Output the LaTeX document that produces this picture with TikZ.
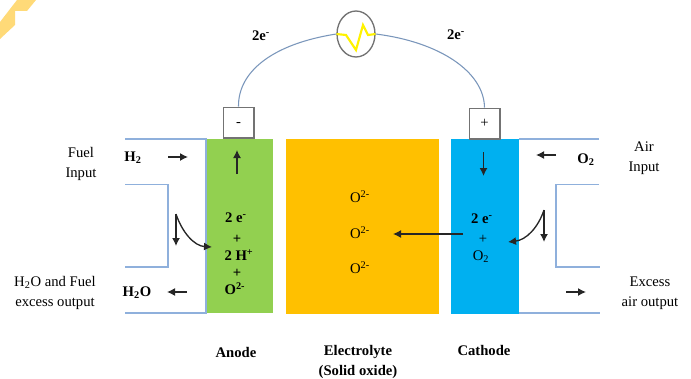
\documentclass[tikz,border=0pt]{standalone}
\usepackage{fontspec}
\setmainfont{Liberation Serif}
\usetikzlibrary{arrows.meta,shapes.geometric}
\definecolor{pipeblue}{RGB}{143,176,220}
\definecolor{anodegreen}{RGB}{146,208,80}
\definecolor{electrolyteorange}{RGB}{255,192,0}
\definecolor{cathodeblue}{RGB}{0,176,240}
\definecolor{cornerorange}{RGB}{255,218,120}
\tikzset{
  pipe/.style={draw=pipeblue,line width=1pt},
  wire/.style={draw=pipeblue!85!black,line width=0.8pt},
  flow/.style={-{Latex[length=6pt,width=6pt]},black!85,line width=1pt},
  terminal/.style={draw=black!55,fill=white,line width=1pt,minimum size=23pt,inner sep=0pt,font=\fontsize{11}{13}\selectfont},
  label/.style={font=\fontsize{11}{15}\selectfont,align=center,inner sep=0pt},
  boldlabel/.style={label,font=\fontsize{11}{15}\selectfont\bfseries},
}
\begin{document}
\begin{tikzpicture}[x=0.75pt,y=-0.75pt]
  \useasboundingbox (0,0) rectangle (691,378);
  \fill[cornerorange] (17,0) -- (36,0) -- (27,11) -- (15,11) -- (15,25) -- (0,39) -- (0,22) -- cycle;
  \fill[anodegreen] (206,139) rectangle (273,313);
  \fill[electrolyteorange] (286,139) rectangle (439,314);
  \fill[cathodeblue] (451,139) rectangle (519,314);
  \draw[pipe] (125,139) -- (206,139) -- (206,313) -- (125,313);
  \draw[pipe] (125,184.5) -- (168,184.5) -- (168,267) -- (125,267);
  \draw[pipe] (519,139) -- (599,139);
  \draw[pipe] (599,184.5) -- (556,184.5) -- (556,267) -- (600,267);
  \draw[pipe] (519,313) -- (600,313);
  \node[terminal] (minus) at (238.5,122.5) {\raisebox{-3pt}[0pt][0pt]{-}};
  \node[terminal] (plus) at (484.5,123.5) {\raisebox{-0.7pt}{+}};
  \node[ellipse,draw=black!55,line width=1pt,minimum width=28.5pt,minimum height=34.5pt,inner sep=0pt] (meter) at (356,34) {};
  \draw[yellow,line width=1.6pt] (meter.west) -- (346,35) -- (356,50) -- (363,25) -- (368,35) -- (meter.east);
  \draw[wire] (minus.north) .. controls (238,72) and (272,44) .. (meter.west);
  \draw[wire] (plus.north) .. controls (484,72) and (440,42) .. (meter.east);
  \node[boldlabel] (wirel) at (261,36) {2e\textsuperscript{-}};
  \node[boldlabel] (wirer) at (456,35) {2e\textsuperscript{-}};
  \node[label] (fuelin) at (81,164) {Fuel\\Input};
  \node[label] (airin) at (644,158) {Air\\Input};
  \node[label] (fuelout) at (55,293) {H\textsubscript{2}O and Fuel\\excess output};
  \node[label] (airout) at (650,293) {Excess\\air output};
  \node[boldlabel] (hyd) at (133,158) {H\textsubscript{2}};
  \node[boldlabel] (oxy) at (586,160) {O\textsubscript{2}};
  \node[boldlabel] (water) at (137,293) {H\textsubscript{2}O};
  \node[boldlabel] (anodetop) at (236,218) {2 e\textsuperscript{-}};
  \node[boldlabel] (anodep) at (237,239) {+};
  \node[boldlabel] (anodeh) at (239,255) {2 H\textsuperscript{+}};
  \node[boldlabel] (anodeq) at (237,273) {+};
  \node[boldlabel] (anodeo) at (235,289) {O\textsuperscript{2-}};
  \node[label] (ionone) at (360,197) {O\textsuperscript{2-}};
  \node[label] (iontwo) at (360,233) {O\textsuperscript{2-}};
  \node[label] (ionthree) at (360,268) {O\textsuperscript{2-}};
  \node[boldlabel] (cathtop) at (482,219) {2 e\textsuperscript{-}};
  \node[label] (cathp) at (483,239) {+};
  \node[label] (catho) at (481,257) {O\textsubscript{2}};
  \node[boldlabel] (anodename) at (236,352) {Anode};
  \node[boldlabel] (elname) at (358,362) {Electrolyte\\(Solid oxide)};
  \node[boldlabel] (cathname) at (484,350) {Cathode};
  \coordinate (hydfrom) at (168,157);
  \coordinate (hydto) at (188,157);
  \coordinate (upfrom) at (237,174);
  \coordinate (upto) at (237,150);
  \coordinate (waterfrom) at (187,292);
  \coordinate (waterto) at (167,292);
  \coordinate (splitl) at (176,214);
  \coordinate (downl) at (176,246);
  \coordinate (inl) at (212,247);
  \coordinate (oxyfrom) at (556,155);
  \coordinate (oxyto) at (536,155);
  \coordinate (downfrom) at (483.5,152);
  \coordinate (downto) at (483.5,176);
  \coordinate (splitr) at (544,210);
  \coordinate (downr) at (544,242);
  \coordinate (inr) at (508,242);
  \coordinate (airfrom) at (566,292);
  \coordinate (airto) at (586,292);
  \coordinate (ionfrom) at (463,234);
  \coordinate (ionto) at (393,234);
  \draw[flow] (hydfrom) -- (hydto);
  \draw[flow] (upfrom) -- (upto);
  \draw[flow] (waterfrom) -- (waterto);
  \draw[flow] (splitl) -- (downl);
  \draw[flow] (splitl) .. controls (182,232) and (194,246) .. (inl);
  \draw[flow] (oxyfrom) -- (oxyto);
  \draw[flow] (downfrom) -- (downto);
  \draw[flow] (splitr) -- (downr);
  \draw[flow] (splitr) .. controls (538,228) and (526,240) .. (inr);
  \draw[flow] (airfrom) -- (airto);
  \draw[flow] (ionfrom) -- (ionto);
\end{tikzpicture}
\end{document}
